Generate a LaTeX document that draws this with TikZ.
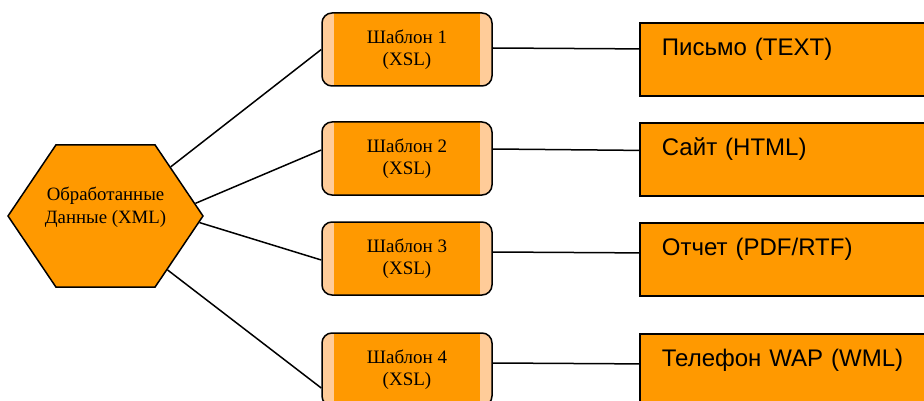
\documentclass[tikz,border=0pt]{standalone}
\usepackage{fontspec}
\setmainfont{Liberation Serif}
\setsansfont{Liberation Sans}
\usetikzlibrary{shapes.symbols}
\definecolor{orng}{RGB}{255,153,0}
\definecolor{peach}{RGB}{255,204,153}

\begin{document}
\begin{tikzpicture}[x=1pt,y=-1pt,
  hexa/.style={signal,signal to=east and west,signal pointer angle=112,draw,line width=1.5pt,
    fill=orng,minimum width=195pt,minimum height=142pt,inner sep=0pt},
  tmpl/.style={rectangle,rounded corners=10pt,draw,line width=1.5pt,fill=peach,
    minimum width=170pt,minimum height=73pt,align=center,font=\fontsize{19}{22}\selectfont,
    path picture={\fill[orng,sharp corners] ([xshift=12pt]path picture bounding box.south west)
      rectangle ([xshift=-12pt]path picture bounding box.north east);}},
  outp/.style={rectangle,draw,line width=1.8pt,fill=orng,anchor=north west,inner xsep=22pt,
    inner ysep=0pt,text width=256pt,text height=33pt,text depth=40pt,
    font=\sffamily\fontsize{24}{28}\selectfont},
  link/.style={line width=1.5pt}]
  \path[use as bounding box,clip] (0,0) rectangle (924,401);

  \node[hexa,label={[align=center,font=\fontsize{18.8}{23}\selectfont,yshift=9pt]center:Обработанные\\Данные (XML)}] (data) at (105.5,216) {};

  \node[tmpl] (t1) at (407,49.5) {Шаблон 1\\(XSL)};
  \node[tmpl] (t2) at (407,158.5) {Шаблон 2\\(XSL)};
  \node[tmpl] (t3) at (407,258.5) {Шаблон 3\\(XSL)};
  \node[tmpl] (t4) at (407,369.5) {Шаблон 4\\(XSL)};

  \node[outp] (o1) at (639,22) {Письмо (TEXT)};
  \node[outp] (o2) at (639,122) {Сайт (HTML)};
  \node[outp] (o3) at (639,222) {Отчет (PDF/RTF)};
  \node[outp] (o4) at (639,333) {Телефон WAP (WML)};

  \path[link]
    (data.37) edge (t1.west)
    (data.8) edge ([yshift=8.5pt]t2.west)
    (data.-4) edge ([yshift=-1.5pt]t3.west)
    (data.-41.5) edge ([yshift=-18.5pt]t4.west);

  \path[link]
    ([yshift=1.5pt]t1.east) edge ([yshift=10.5pt]o1.west)
    ([yshift=9.5pt]t2.east) edge ([yshift=9pt]o2.west)
    ([yshift=6.5pt]t3.east) edge ([yshift=6.5pt]o3.west)
    ([yshift=6.5pt]t4.east) edge ([yshift=6.5pt]o4.west);
\end{tikzpicture}
\end{document}
